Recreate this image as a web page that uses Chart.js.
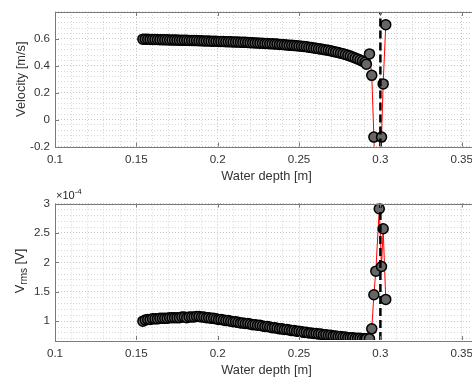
<!DOCTYPE html>
<html>
<head>
<meta charset="utf-8">
<script src="https://cdn.jsdelivr.net/npm/chart.js@4.4.0/dist/chart.umd.min.js"></script>
<style>
  html, body { margin: 0; padding: 0; background: #fff; overflow: hidden; width: 472px; height: 379px; }
  .panel { position: absolute; left: 0; }
  #velPanel { top: 0; }
  #rmsPanel { top: 190px; }
  .lbl { position: absolute; font-family: 'Liberation Sans', Arial, Helvetica, sans-serif; color: #262626; white-space: nowrap; }
  #rmsTitle { left: -30px; top: 261px; width: 100px; height: 20px; line-height: 20px; text-align: center; font-size: 12.8px; transform: rotate(-90deg); }
  #rmsTitle sub { font-size: 10px; vertical-align: -3px; }
  #rmsExp { left: 56px; top: 187px; font-size: 11px; }
  #rmsExp sup { font-size: 8px; vertical-align: 5px; }
</style>
</head>
<body>
<div class="panel" id="velPanel"><canvas id="velChart" width="490" height="190"></canvas></div>
<div class="panel" id="rmsPanel"><canvas id="rmsChart" width="490" height="189"></canvas></div>
<div class="lbl" id="rmsTitle">V<sub>rms</sub> [V]</div>
<div class="lbl" id="rmsExp">&times;10<sup>-4</sup></div>

<script>
// water depth [m]
const depth = [
  0.1540, 0.1555, 0.1570, 0.1585, 0.1600, 0.1615, 0.1630, 0.1645, 0.1660, 0.1675,
  0.1690, 0.1705, 0.1720, 0.1735, 0.1750, 0.1765, 0.1780, 0.1795, 0.1810, 0.1825,
  0.1840, 0.1855, 0.1870, 0.1885, 0.1900, 0.1915, 0.1930, 0.1945, 0.1960, 0.1975,
  0.1990, 0.2005, 0.2020, 0.2035, 0.2050, 0.2065, 0.2080, 0.2095, 0.2110, 0.2125,
  0.2140, 0.2155, 0.2170, 0.2185, 0.2200, 0.2215, 0.2230, 0.2245, 0.2260, 0.2275,
  0.2290, 0.2305, 0.2320, 0.2335, 0.2350, 0.2365, 0.2380, 0.2395, 0.2410, 0.2425,
  0.2440, 0.2455, 0.2470, 0.2485, 0.2500, 0.2515, 0.2530, 0.2545, 0.2560, 0.2575,
  0.2590, 0.2605, 0.2620, 0.2635, 0.2650, 0.2665, 0.2680, 0.2695, 0.2710, 0.2725,
  0.2740, 0.2755, 0.2770, 0.2785, 0.2800, 0.2815, 0.2830, 0.2845, 0.2860, 0.2875,
  0.2890, 0.2905,
  0.2914, 0.2933, 0.2947, 0.2960, 0.2972, 0.2993, 0.3007, 0.3017, 0.3033
];

// velocity [m/s]
const velocity = [
  0.598, 0.597, 0.597, 0.596, 0.596, 0.595, 0.595, 0.594, 0.594, 0.593,
  0.593, 0.592, 0.592, 0.591, 0.591, 0.590, 0.590, 0.589, 0.589, 0.588,
  0.588, 0.587, 0.587, 0.586, 0.586, 0.585, 0.584, 0.584, 0.583, 0.583,
  0.582, 0.581, 0.581, 0.580, 0.579, 0.579, 0.578, 0.577, 0.577, 0.576,
  0.575, 0.575, 0.574, 0.573, 0.572, 0.571, 0.570, 0.569, 0.568, 0.567,
  0.566, 0.565, 0.564, 0.563, 0.562, 0.561, 0.559, 0.558, 0.556, 0.555,
  0.553, 0.552, 0.550, 0.549, 0.547, 0.545, 0.543, 0.541, 0.538, 0.536,
  0.533, 0.530, 0.527, 0.524, 0.521, 0.518, 0.515, 0.511, 0.507, 0.503,
  0.499, 0.494, 0.489, 0.484, 0.478, 0.472, 0.465, 0.458, 0.451, 0.443,
  0.435, 0.426,
  0.412, 0.488, 0.329, -0.130, -0.620, -0.850, -0.130, 0.265, 0.705
];

// rms voltage [x 1e-4 V]
const vrms = [
  1.00, 1.02, 1.03, 1.03, 1.04, 1.04, 1.04, 1.05, 1.05, 1.05,
  1.05, 1.06, 1.06, 1.06, 1.06, 1.06, 1.07, 1.07, 1.06, 1.07,
  1.07, 1.07, 1.08, 1.08, 1.07, 1.07, 1.06, 1.06, 1.05, 1.05,
  1.04, 1.03, 1.03, 1.02, 1.01, 1.01, 1.00, 0.99, 0.99, 0.98,
  0.97, 0.97, 0.96, 0.96, 0.95, 0.94, 0.94, 0.93, 0.93, 0.92,
  0.91, 0.91, 0.90, 0.89, 0.89, 0.88, 0.87, 0.87, 0.86, 0.86,
  0.85, 0.84, 0.84, 0.83, 0.83, 0.82, 0.81, 0.81, 0.80, 0.80,
  0.79, 0.79, 0.78, 0.78, 0.77, 0.77, 0.76, 0.76, 0.75, 0.75,
  0.74, 0.74, 0.73, 0.73, 0.72, 0.72, 0.72, 0.71, 0.71, 0.71,
  0.70, 0.70,
  0.70, 0.70, 0.87, 1.45, 1.85, 2.91, 1.93, 2.57, 1.37
];

const waterLevel = 0.3;

const depthTicks = [0.1, 0.15, 0.2, 0.25, 0.3, 0.35];
const velocityTicks = [-0.2, 0, 0.2, 0.4, 0.6];
const vrmsTicks = [1, 1.5, 2, 2.5, 3];

const depthRange = [0.1, 0.36];
const velocityRange = [-0.2, 0.8];
const vrmsRange = [0.68, 3];

const FONT = "'Liberation Sans', Arial, Helvetica, sans-serif";
const TEXT = '#333333';

function steps(from, to, step) {
  const out = [];
  for (let v = from; v <= to + 1e-9; v += step) out.push(+v.toFixed(4));
  return out;
}
const isMajor = (v, majors) => majors.some(m => Math.abs(m - v) < 1e-6);
const fmt = v => String(+v.toFixed(3));

// matlab style box + inward tick marks
const boxPlugin = {
  id: 'box',
  afterDraw(chart, args, opts) {
    const { ctx, chartArea: a, scales } = chart;
    ctx.save();
    ctx.strokeStyle = '#7a7a7a';
    ctx.lineWidth = 1;
    ctx.strokeRect(Math.round(a.left) + 0.5, Math.round(a.top) + 0.5, a.right - a.left, Math.round(a.bottom - a.top));
    ctx.beginPath();
    scales.x.ticks.forEach(t => {
      if (!isMajor(t.value, opts.xMajors)) return;
      const px = Math.round(scales.x.getPixelForValue(t.value)) + 0.5;
      ctx.moveTo(px, a.bottom); ctx.lineTo(px, a.bottom - 4);
      ctx.moveTo(px, a.top); ctx.lineTo(px, a.top + 4);
    });
    scales.y.ticks.forEach(t => {
      if (!isMajor(t.value, opts.yMajors)) return;
      const py = Math.round(scales.y.getPixelForValue(t.value)) + 0.5;
      ctx.moveTo(a.left, py); ctx.lineTo(a.left + 4, py);
    });
    ctx.stroke();
    ctx.restore();
  }
};

function makeChart(id, values, yRange, yMajors, yMinorStep, padTop, xHeight, xTitlePad, yTitle) {
  const gridColor = majors => c => isMajor(c.tick.value, majors) ? '#c4c4c4' : '#d8d8d8';
  return new Chart(document.getElementById(id), {
    type: 'scatter',
    data: {
      datasets: [
        {
          data: [{ x: waterLevel, y: yRange[0] }, { x: waterLevel, y: yRange[1] }],
          showLine: true,
          borderColor: '#000',
          borderWidth: 2.5,
          borderDash: [8, 4],
          pointRadius: 0,
          order: 0,
          clip: 0
        },
        {
          data: depth.map((d, i) => ({ x: d, y: values[i] })),
          showLine: true,
          borderColor: '#ff0000',
          borderWidth: 1,
          pointRadius: 5,
          pointBackgroundColor: '#666666',
          pointBorderColor: '#000',
          pointBorderWidth: 1.5,
          order: 1,
          clip: 0
        }
      ]
    },
    options: {
      responsive: false,
      animation: false,
      layout: { padding: { top: padTop, right: 12, left: 0, bottom: 0 } },
      plugins: {
        legend: { display: false },
        tooltip: { enabled: false },
        box: { xMajors: depthTicks, yMajors: yMajors }
      },
      scales: {
        x: {
          type: 'linear',
          min: depthRange[0],
          max: depthRange[1],
          afterBuildTicks: s => { s.ticks = steps(depthRange[0], depthRange[1], 0.01).map(v => ({ value: v })); },
          afterFit: s => { s.height = xHeight; },
          ticks: {
            autoSkip: false, maxRotation: 0, padding: 6.5, color: TEXT,
            font: { family: FONT, size: 11.6 },
            callback: v => isMajor(v, depthTicks) ? fmt(v) : ''
          },
          grid: { color: gridColor(depthTicks), lineWidth: 1, drawTicks: false },
          border: { display: false, dash: [1, 2] },
          title: {
            display: true, text: 'Water depth [m]', color: TEXT,
            font: { family: FONT, size: 12.8 }, padding: { top: 0, bottom: xTitlePad }
          }
        },
        y: {
          type: 'linear',
          min: yRange[0],
          max: yRange[1],
          afterBuildTicks: s => { s.ticks = steps(yRange[0] + ((yMajors[0] - yRange[0]) % yMinorStep), yRange[1], yMinorStep).map(v => ({ value: v })); },
          afterFit: s => { s.width = 55; },
          ticks: {
            autoSkip: false, padding: 5, color: TEXT,
            font: { family: FONT, size: 11.6 },
            callback: v => isMajor(v, yMajors) ? fmt(v) : ''
          },
          grid: { color: gridColor(yMajors), lineWidth: 1, drawTicks: false },
          border: { display: false, dash: [1, 2] },
          title: {
            display: !!yTitle, text: yTitle || '', color: TEXT,
            font: { family: FONT, size: 12.8 }, padding: { top: 14, bottom: 0 }
          }
        }
      }
    },
    plugins: [boxPlugin]
  });
}

makeChart('velChart', velocity, velocityRange, velocityTicks, 0.04, 9, 43.5, 6.3, 'Velocity [m/s]');
makeChart('rmsChart', vrms, vrmsRange, vrmsTicks, 0.1, 13.5, 39, 1.3, '');
</script>
</body>
</html>
